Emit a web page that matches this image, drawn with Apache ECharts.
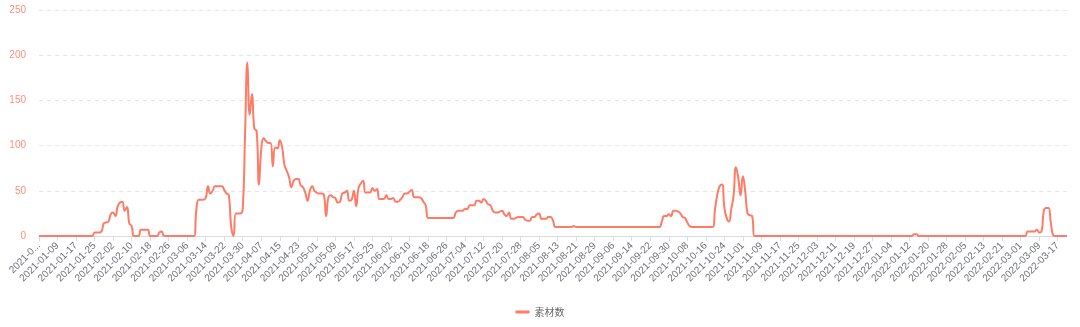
<!DOCTYPE html>
<html>
<head>
<meta charset="utf-8">
<script src="https://cdn.jsdelivr.net/npm/echarts@6/dist/echarts.min.js"></script>
<style>
html,body{margin:0;padding:0;background:#fff;}
#c{width:1080px;height:327px;}
</style>
</head>
<body>
<div id="c"></div>
<script>
// Category range (daily): 2021-01-01 .. 2022-03-21
const startDate = '2021-01-01';
const dayCount = 445;
const seriesName = '素材数';
const yTicks = [0, 50, 100, 150, 200, 250];

// Daily values, by month
const v2021_01 = [0,0,0,0,0,0,0,0,0,0,0,0,0,0,0,0,0,0,0,0,0,0,0,0,4,4,4,5,14,15,16];
const v2021_02 = [24,26,22,33,37,38,28,32,14,11,0,0,0,7,7,7,7,0,0,0,0,4,5,0,0,0,0,0];
const v2021_03 = [0,0,0,0,0,0,0,0,0,30,40,40,40,42,55,47,50,55,55,55,55,51,47,45,10,0,25,25,25,30,113];
const v2021_04 = [192,134,157,119,116,57,96,108,105,103,103,77,98,97,106,98,79,72,65,54,61,63,63,56,54,48,39,50,55,50];
const v2021_05 = [48,47,47,46,22,43,45,43,42,37,38,47,48,50,39,40,50,33,53,58,61,48,48,48,53,50,52,41,41,41,45];
const v2021_06 = [41,41,42,38,38,40,43,47,47,49,51,43,43,43,42,38,34,20,20,20,20,20,20,20,20,20,20,20,20,26];
const v2021_07 = [28,28,28,30,30,34,34,34,39,39,37,41,39,35,34,28,26,26,27,28,24,22,26,19,19,20,21,21,21,18,17];
const v2021_08 = [17,21,21,24,25,19,19,19,21,21,17,10,10,10,10,10,10,10,10,11,10,10,10,10,10,10,10,10,10,10,10];
const v2021_09 = [10,10,10,10,10,10,10,10,10,10,10,10,10,10,10,10,10,10,10,10,10,10,10,10,10,10,16,22,22,24];
const v2021_10 = [22,28,28,27,25,21,20,15,11,10,10,10,10,10,10,10,10,10,10,30,46,55,57,32,20,16,30,45,76,65,45];
const v2021_11 = [66,50,25,23,22,0,0,0,0,0,0,0,0,0,0,0,0,0,0,0,0,0,0,0,0,0,0,0,0,0];
const v2021_12 = [0,0,0,0,0,0,0,0,0,0,0,0,0,0,0,0,0,0,0,0,0,0,0,0,0,0,0,0,0,0,0];
const v2022_01 = [0,0,0,0,0,0,0,0,0,0,0,0,0,2,2,0,0,0,0,0,0,0,0,0,0,0,0,0,0,0,0];
const v2022_02 = [0,0,0,0,0,0,0,0,0,0,0,0,0,0,0,0,0,0,0,0,0,0,0,0,0,0,0,0];
const v2022_03 = [0,0,0,5,5,5,5,7,4,5,28,31,31,15,1,0,0,0,0,0,0];

const values = [].concat(v2021_01, v2021_02, v2021_03, v2021_04, v2021_05, v2021_06,
  v2021_07, v2021_08, v2021_09, v2021_10, v2021_11, v2021_12, v2022_01, v2022_02, v2022_03);

function pad(n){return n < 10 ? '0' + n : '' + n;}
const categories = [];
{
  const d0 = new Date(startDate + 'T00:00:00Z');
  for (let i = 0; i < dayCount; i++) {
    const d = new Date(d0.getTime() + i * 86400000);
    categories.push(d.getUTCFullYear() + '-' + pad(d.getUTCMonth() + 1) + '-' + pad(d.getUTCDate()));
  }
}

const lineColor = '#ff7b66';
const font = 'Liberation Sans';
const chart = echarts.init(document.getElementById('c'), null, {renderer: 'canvas'});
chart.setOption({
  animation: false,
  backgroundColor: '#fff',
  grid: {left: 39, right: 13, top: 10, bottom: 91, containLabel: false, outerBoundsMode: 'none'},
  legend: {
    data: [{name: seriesName, icon: 'roundRect'}],
    bottom: 5,
    left: 'center',
    itemWidth: 14,
    itemHeight: 3,
    itemGap: 10,
    textStyle: {color: '#666', fontSize: 10, fontFamily: 'Noto Sans CJK SC'}
  },
  xAxis: {
    type: 'category',
    boundaryGap: false,
    data: categories,
    axisLine: {lineStyle: {color: '#d7dce8'}},
    axisTick: {interval: 7, lineStyle: {color: '#d7dce8'}},
    axisLabel: {
      interval: 7, rotate: 45, fontSize: 10, color: '#6E7079', fontFamily: font, margin: 8,
      // the first label is clipped at the left edge in the original
      formatter: function (value, index) { return index === 0 ? value.slice(0, 6) + '...' : value; }
    }
  },
  yAxis: {
    type: 'value',
    min: yTicks[0],
    max: yTicks[yTicks.length - 1],
    interval: 50,
    axisLine: {show: false},
    axisTick: {show: false},
    axisLabel: {color: '#ff8f7c', fontSize: 10, margin: 13, fontFamily: font},
    splitLine: {lineStyle: {type: [4, 4], color: '#e6e6e6'}}
  },
  series: [{
    name: seriesName,
    type: 'line',
    data: values,
    smooth: true,
    symbol: 'none',
    lineStyle: {color: lineColor, width: 2},
    itemStyle: {color: lineColor}
  }]
});
</script>
</body>
</html>
